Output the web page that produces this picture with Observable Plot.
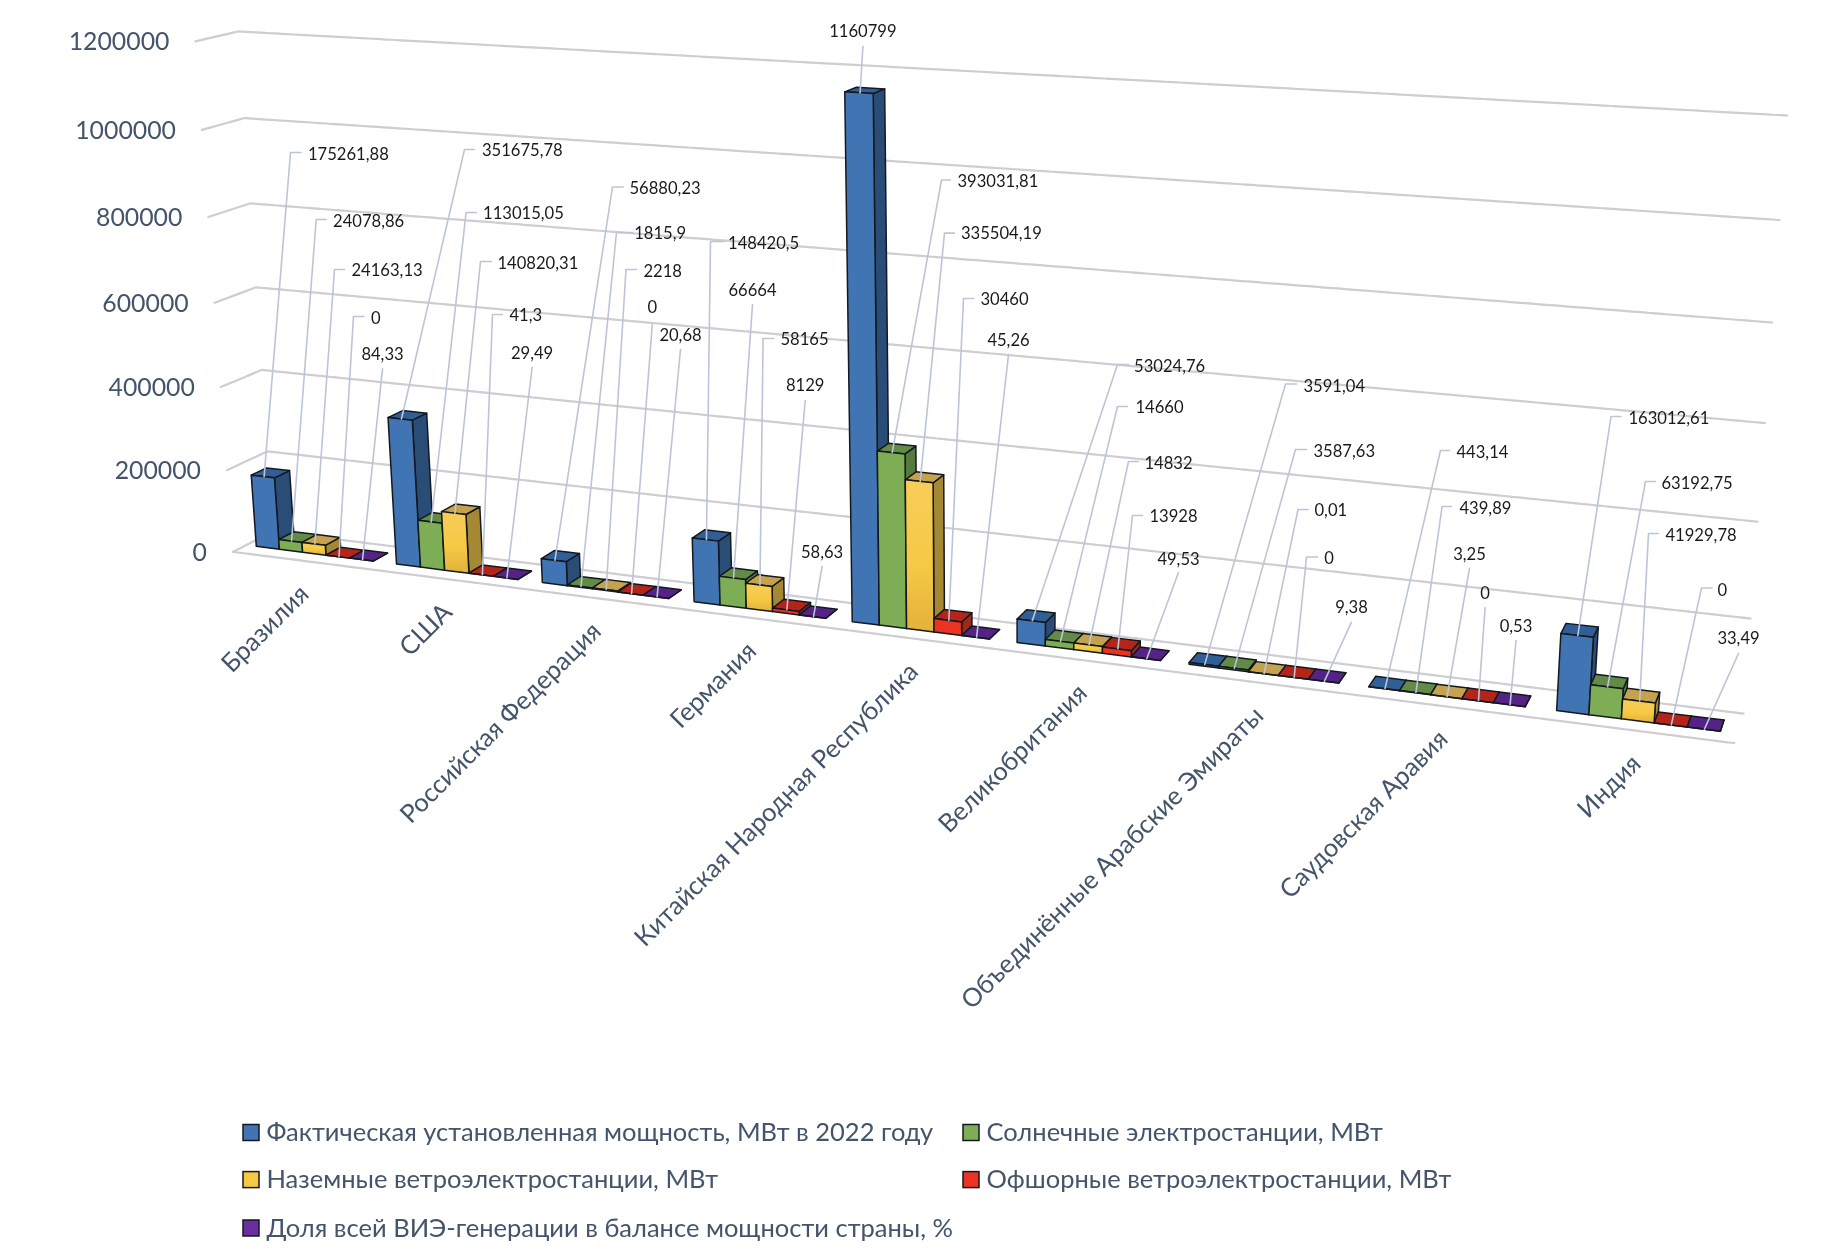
<!DOCTYPE html>
<html lang="ru">
<head>
<meta charset="utf-8">
<title>ВИЭ-генерация по странам</title>
<script src="https://cdn.jsdelivr.net/npm/d3@7"></script>
<script src="https://cdn.jsdelivr.net/npm/@observablehq/plot@0.6"></script>
<style>
  html, body { margin: 0; padding: 0; background: #fff; }
  #chart svg { display: block; filter: blur(0.35px); }
</style>
</head>
<body>
<div id="chart"></div>
<script>
// ---------- data ----------
const countries = ["Бразилия", "США", "Российская Федерация", "Германия", "Китайская Народная Республика", "Великобритания", "Объединённые Арабские Эмираты", "Саудовская Аравия", "Индия"];
const capacity = [175261.88, 351675.78, 56880.23, 148420.5, 1160799, 53024.76, 3591.04, 443.14, 163012.61];
const solar    = [24078.86, 113015.05, 1815.9, 66664, 393031.81, 14660, 3587.63, 439.89, 63192.75];
const onshore  = [24163.13, 140820.31, 2218, 58165, 335504.19, 14832, 0.01, 3.25, 41929.78];
const offshore = [0, 41.3, 0, 8129, 30460, 13928, 0, 0, 0];
const share    = [84.33, 29.49, 20.68, 58.63, 45.26, 49.53, 9.38, 0.53, 33.49];
const yTicks = [0, 200000, 400000, 600000, 800000, 1000000, 1200000];
const seriesNames = [
  "Фактическая установленная мощность, МВт в 2022 году",
  "Солнечные электростанции, МВт",
  "Наземные ветроэлектростанции, МВт",
  "Офшорные ветроэлектростанции, МВт",
  "Доля всей ВИЭ-генерации в балансе мощности страны, %"
];

// ---------- styles ----------
const frontColors = ["#4174b2", "#7dae55", "url(#yellowFace)", "#ea3323", "#6a2ea0"];
const sideColors  = ["#2a4d78", "#567a3c", "#a58834", "#9c2a1b", "#4a2075"];
const topColors   = ["#305f97", "#628b45", "#c5a24d", "#b52418", "#552385"];
const legendFill  = ["#4174b2", "#7dae55", "#f6c945", "#ea3323", "#6a2ea0"];
const slate = "#44546a";
const font = "Lato, Carlito, sans-serif";
const W = 1829, H = 1254, yMax = 1200000;

// ---------- layout: hand-placed data-label positions [textX, textY, elbowX, elbowY, tickEndX]; the short form [textX, textY, leaderTopY] has no elbow ----------
const labelPlaces = [
  [[307.5,154,290,152,300.5],[332.6,221,315.7,219,325.6],[351,270,334,269,344],[370.5,318,353,316,363.5],[382,354,368.4]],
  [[481.4,150,464,149,474],[482.6,213,465.6,212,476],[497,263,480,261,491],[509,315,492,314,502],[531.6,353,367]],
  [[629,188,612,186.5,622.6],[633.7,233,616,232,632],[643,271,625.5,269,636],[651.8,307.6,324],[680,335,349]],
  [[727.6,243,710,241,723.5],[752,290,304],[780,339,762.6,338,773],[804.7,385,400],[821.6,552,566]],
  [[862.4,31,45.7],[957,181.6,941,179.5,950],[960.5,233.4,944,232.6,954],[980,298.7,963,298,973],[1008,340,354]],
  [[1133.6,366,1117,364,1128],[1135,407,1117,406,1127],[1144,463,1128,461,1138],[1149,516,1132,515,1142],[1178,559,572]],
  [[1303,386,1285,383.5,1296],[1313,451,1295,449,1306],[1314,510,1297.5,509,1307.5],[1323.7,558,1306,556.5,1317],[1351,607,621.7]],
  [[1456,452,1440,450,1449],[1459,508,1441.6,506,1451],[1469,554,568],[1484.6,593,607],[1515.5,626,640]],
  [[1628,418,1610.5,416,1620.5],[1661,483,1645,481,1655],[1665,535,1648,533,1658],[1717,590,1701,587.5,1711.5],[1738,638,653]]
];
const legendPlaces = [[243,1132.5],[963,1132.5],[243,1179.6],[963,1179.6],[243,1228]];

// ---------- camera: perspective fitted to the chart box; (u across, d depth, h height) -> page units ----------
const gapFrac = 0.082, groupFrac = 0.836, dFront = 0.69, dBack = 0.31;
const startU = i => (i + gapFrac) / 9;
const barU = groupFrac / 9 / 5;
const calibration = [
  [0,0,0,271,531],[1,0,0,1743,713],[0,0,1,239,30.6],[1,0,1,1787,115.5],
  [0,1,0,233,551],[1,1,0,1734,743],[0,1,1,194,41],
  [startU(0),dFront,0,256.7,546.7],[startU(1),dFront,0,396.7,564],[startU(2),dFront,0,542.7,582.7],
  [startU(3),dFront,0,694.4,602],[startU(4),dFront,0,852.3,621.7],[startU(4),dFront,1160799/yMax,844,91.7],
  [startU(5),dFront,0,1017,643],[startU(6),dFront,0,1189,663.4],[startU(7),dFront,0,1368.6,686.7],
  [startU(8),dFront,0,1556,710.5],[startU(8)+5*barU,dFront,0,1721,731]
];
function fitCamera(pts) {
  const n = 11, A = Array.from({length:n},()=>new Array(n+1).fill(0));
  const add = (r, b) => { for (let i=0;i<n;i++){ for(let j=0;j<n;j++) A[i][j]+=r[i]*r[j]; A[i][n]+=r[i]*b; } };
  for (const [u,d,h,px,py] of pts) {
    const x=px/1000,y=py/1000;
    add([u,d,h,1,0,0,0,0,-x*u,-x*d,-x*h],x);
    add([0,0,0,0,u,d,h,1,-y*u,-y*d,-y*h],y);
  }
  for (let c=0;c<n;c++){
    let m=c; for(let r=c+1;r<n;r++) if(Math.abs(A[r][c])>Math.abs(A[m][c])) m=r;
    [A[c],A[m]]=[A[m],A[c]];
    for(let r=0;r<n;r++){ if(r===c) continue; const f=A[r][c]/A[c][c]; for(let k=c;k<=n;k++) A[r][k]-=f*A[c][k]; }
  }
  return A.map((row,i)=>row[n]/row[i]);
}
const P = fitCamera(calibration);
function project(u,d,h){
  const w=P[8]*u+P[9]*d+P[10]*h+1;
  return [1000*(P[0]*u+P[1]*d+P[2]*h+P[3])/w, 1000*(P[4]*u+P[5]*d+P[6]*h+P[7])/w];
}

// ---------- build marks' tables ----------
const series = [capacity, solar, onshore, offshore, share];
const faces = [];
function addFace(id, color, a, b, c, e) {
  const [A,B,C,D] = [a,b,c,e].map(p => project(...p));
  faces.push({id, color, x1:A[0], y1:A[1], x2:D[0], y2:D[1]});
  faces.push({id, color, x1:B[0], y1:B[1], x2:C[0], y2:C[1]});
}
const labels = [], leaders = [];
countries.forEach((name, i) => {
  series.forEach((vals, j) => {
    const v = vals[i], h = v / yMax;
    const u0 = startU(i) + j*barU, u1 = u0 + barU;
    const id = `${i}-${j}`;
    addFace(id+"s", sideColors[j], [u1,dFront,0],[u1,dBack,0],[u1,dBack,h],[u1,dFront,h]);
    addFace(id+"t", topColors[j], [u0,dFront,h],[u1,dFront,h],[u1,dBack,h],[u0,dBack,h]);
    addFace(id+"f", frontColors[j], [u0,dFront,0],[u1,dFront,0],[u1,dFront,h],[u0,dFront,h]);
    const place = labelPlaces[i][j];
    const elbow = place.length === 5;
    labels.push({text:String(v).replace(".",","), x:place[0], y:place[1], elbow});
    const [ax,ay] = project((u0+u1)/2, dFront - 0.02, h);
    if (elbow) {
      leaders.push({id, x:place[4], y:place[3]}, {id, x:place[2], y:place[3]}, {id, x:ax, y:ay});
    } else {
      leaders.push({id, x:place[0], y:place[2]}, {id, x:ax, y:ay});
    }
  });
});
const wallLines = yTicks.flatMap(t => [[0,1],[0,0],[1,0]].map(([u,d]) => {
  const [x,y] = project(u,d,t/yMax); return {t, x, y};
}));
const frontEdge = [0,1].map(u => { const [x,y] = project(u,1,0); return {x,y}; });
const tickRows = yTicks.map(t => { const [x,y] = project(0,1,t/yMax); return {t, x, y}; });
const catRows = countries.map((name,i) => { const [x,y] = project((i+0.5)/9,1,0); return {name,x,y}; });
const legendRows = seriesNames.map((name,j) => ({name, fill:legendFill[j], x:legendPlaces[j][0], y:legendPlaces[j][1]}));

const defs = () => {
  const g = d3.create("svg:defs");
  const lg = g.append("linearGradient").attr("id","yellowFace").attr("x1",0).attr("y1",0).attr("x2",0).attr("y2",1);
  lg.append("stop").attr("offset","0%").attr("stop-color","#f6cd58");
  lg.append("stop").attr("offset","55%").attr("stop-color","#f6c945");
  lg.append("stop").attr("offset","100%").attr("stop-color","#e2b23a");
  return g.node();
};
const gridStyle = {stroke:"#cdcdd2", strokeWidth:2.2, strokeDasharray:"13,1.5"};

const chart = Plot.plot({
  width: W, height: H,
  margin: 0,
  x: {domain:[0,W], range:[0,W], axis:null},
  y: {domain:[0,H], range:[0,H], axis:null},
  color: {type:"identity"},
  style: {background:"#fff", fontFamily: font},
  marks: [
    defs,
    Plot.line(wallLines, {x:"x", y:"y", z:"t", ...gridStyle}),
    Plot.line(frontEdge, {x:"x", y:"y", ...gridStyle}),
    Plot.area(faces, {x1:"x1", y1:"y1", x2:"x2", y2:"y2", z:"id", fill:"color", stroke:"#14181f", strokeWidth:1.5, strokeLinejoin:"round", fillOpacity:1}),
    Plot.line(leaders, {x:"x", y:"y", z:"id", stroke:"#bcc5d8", strokeWidth:1.6}),
    Plot.text(labels.filter(d=>d.elbow), {x:"x", y:"y", text:"text", textAnchor:"start", fill:"#1a1a1a", fontSize:16.6, fontFamily:font}),
    Plot.text(labels.filter(d=>!d.elbow), {x:"x", y:"y", text:"text", textAnchor:"middle", fill:"#1a1a1a", fontSize:16.6, fontFamily:font}),
    Plot.text(tickRows, {x:"x", y:"y", text:d=>String(d.t), textAnchor:"end", dx:-26, dy:1, fill:slate, fontSize:24.8, fontFamily:font}),
    Plot.text(catRows, {x:"x", y:"y", text:"name", textAnchor:"end", rotate:-45, dx:2, dy:29, fill:slate, fontSize:25.5, fontFamily:font}),
    Plot.rect(legendRows, {x1:"x", x2:d=>d.x+16, y1:d=>d.y-8, y2:d=>d.y+8, fill:"fill", stroke:"#14181f", strokeWidth:1.5}),
    Plot.text(legendRows, {x:d=>d.x+23, y:"y", text:"name", textAnchor:"start", fill:slate, fontSize:25.5, fontFamily:font})
  ]
});
document.getElementById("chart").append(chart);
</script>
</body>
</html>
